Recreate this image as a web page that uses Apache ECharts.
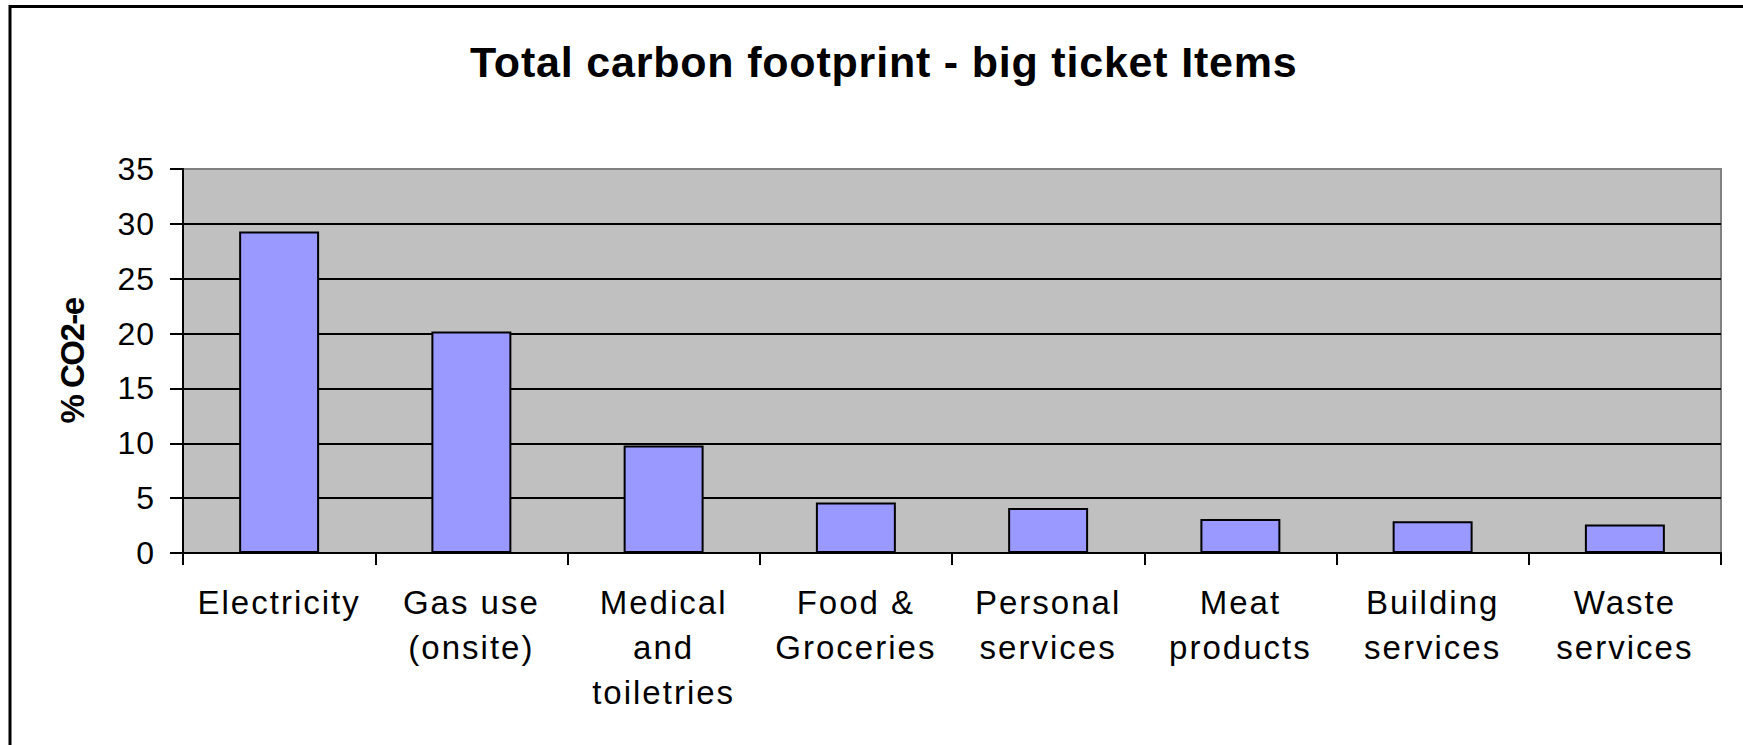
<!DOCTYPE html>
<html>
<head>
<meta charset="utf-8">
<script src="https://cdn.jsdelivr.net/npm/echarts@6/dist/echarts.min.js"></script>
<style>
  html, body { margin: 0; padding: 0; background: #ffffff; }
  #chart { width: 1743px; height: 745px; }
</style>
</head>
<body>
<div id="chart"></div>
<script>
const titleText = 'Total carbon footprint - big ticket Items';
const yAxisName = '% CO2-e';
const categories = ['Electricity', 'Gas use\n(onsite)', 'Medical\nand\ntoiletries', 'Food &\nGroceries', 'Personal\nservices', 'Meat\nproducts', 'Building\nservices', 'Waste\nservices'];
const values = [29.3, 20.2, 9.8, 4.6, 4.1, 3.1, 2.9, 2.6];
const yMin = 0, yMax = 35, yStep = 5;

const FONT = '"Liberation Sans", Arial, Helvetica, sans-serif';
const chart = echarts.init(document.getElementById('chart'), null, { renderer: 'svg' });

chart.setOption({
  animation: false,
  backgroundColor: '#ffffff',
  title: {
    text: titleText,
    left: 465,
    top: 35,
    textStyle: { fontFamily: FONT, fontSize: 43, fontWeight: 'bold', color: '#000000' }
  },
  graphic: [{
    type: 'rect',
    shape: { x: 10, y: 6.5, width: 1900, height: 900 },
    style: { fill: 'none', stroke: '#000000', lineWidth: 3 },
    silent: true,
    z: 100
  }],
  grid: {
    left: 183, right: 22, top: 169, bottom: 192,
    show: true,
    backgroundColor: '#C0C0C0',
    borderColor: '#808080',
    borderWidth: 2
  },
  xAxis: {
    type: 'category',
    data: categories,
    boundaryGap: true,
    axisLine: { show: true, lineStyle: { color: '#000000', width: 2 } },
    axisTick: { show: true, interval: 0, alignWithLabel: false, length: 12, lineStyle: { color: '#000000', width: 2 } },
    axisLabel: { interval: 0, margin: 27, fontFamily: FONT, fontSize: 33, lineHeight: 45, color: '#000000', align: 'center' },
    splitLine: { show: false }
  },
  yAxis: {
    type: 'value',
    min: yMin, max: yMax, interval: yStep,
    name: yAxisName,
    nameLocation: 'middle',
    nameRotate: 90,
    nameGap: 94,
    nameTextStyle: { fontFamily: FONT, fontSize: 33, fontWeight: 'bold', color: '#000000' },
    axisLine: { show: true, lineStyle: { color: '#000000', width: 2 } },
    axisTick: { show: true, length: 13, lineStyle: { color: '#000000', width: 2 } },
    axisLabel: { margin: 28, fontFamily: FONT, fontSize: 32, color: '#000000' },
    splitLine: { show: true, showMinLine: false, showMaxLine: false, lineStyle: { color: '#000000', width: 2 } }
  },
  series: [{
    type: 'bar',
    data: values,
    barWidth: '41.6%',
    itemStyle: { color: '#9999FF', borderColor: '#000000', borderWidth: 2 }
  }]
});

function applySpacing() {
  const texts = document.querySelectorAll('#chart svg text');
  texts.forEach(t => {
    const s = t.textContent || '';
    let ls = '2px';
    if (s.indexOf('Total') === 0) ls = '0.8px';
    else if (s.indexOf('%') === 0) ls = '-1.5px';
    else if (/^\d+$/.test(s)) ls = '1px';
    t.setAttribute('letter-spacing', ls);
    t.style.letterSpacing = ls;
  });
}
chart.on('finished', applySpacing);
setTimeout(applySpacing, 50);
</script>
</body>
</html>
